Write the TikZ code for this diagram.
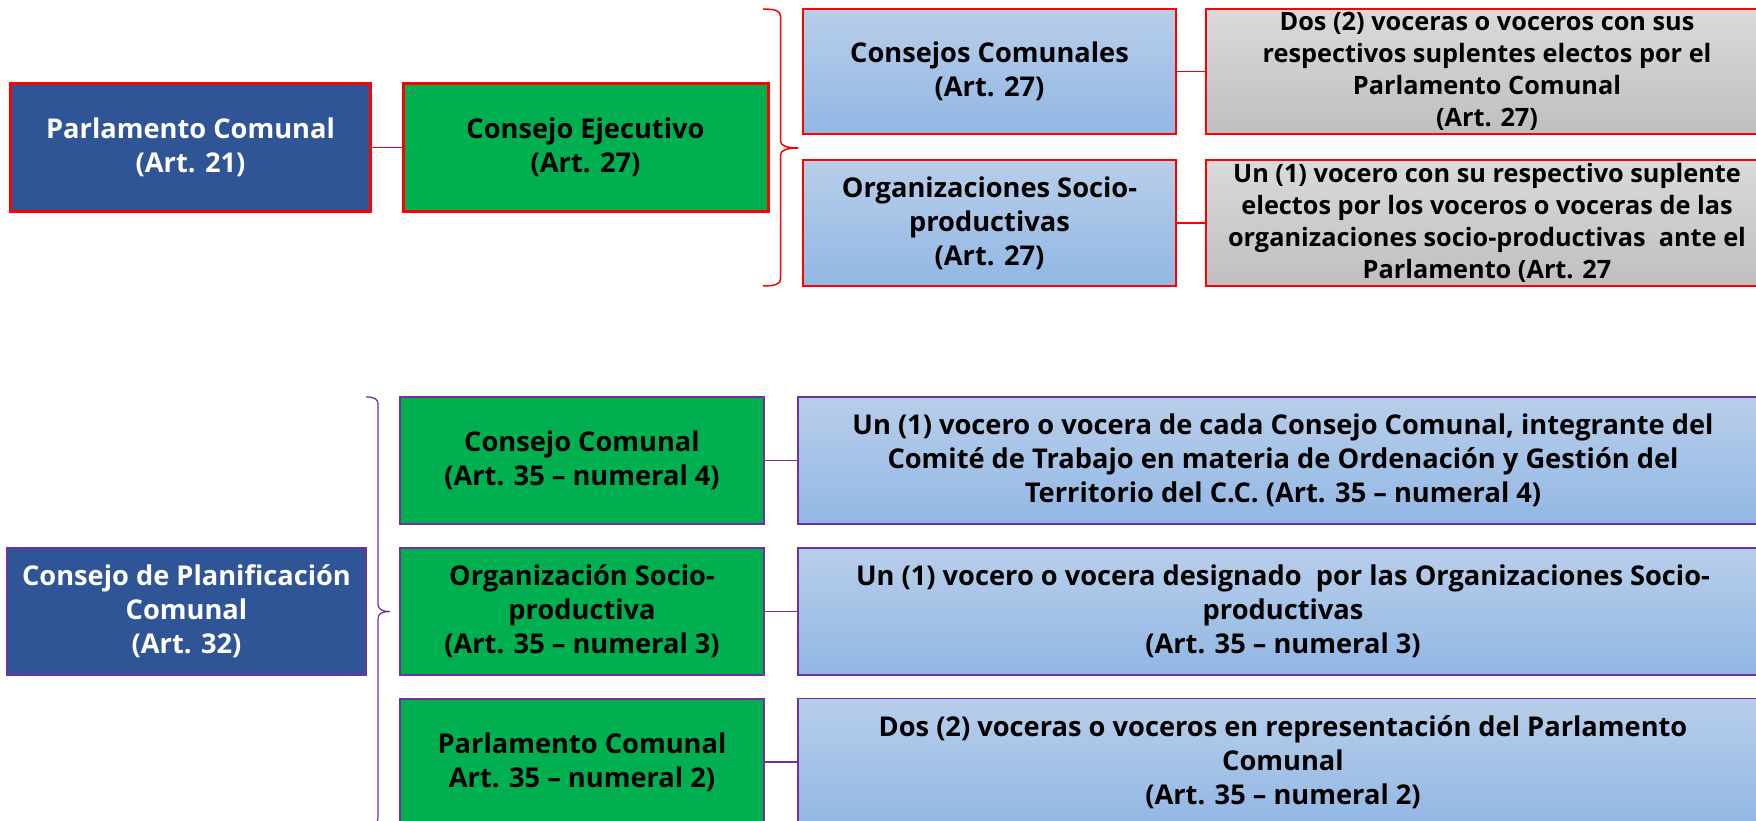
\documentclass[tikz,border=0pt]{standalone}
\usepackage{fontspec}
\setmainfont{Open Sans}

\definecolor{jefe}{RGB}{47,85,151}
\definecolor{verde}{RGB}{0,176,80}
\definecolor{celesteA}{RGB}{184,206,234}
\definecolor{celesteB}{RGB}{146,183,228}
\definecolor{grisA}{RGB}{218,218,218}
\definecolor{grisB}{RGB}{191,191,191}
\definecolor{morado}{RGB}{112,48,160}

\newcommand{\txtgrande}{\fontsize{15.5}{19.4}\selectfont\bfseries}
\newcommand{\txtchico}{\fontsize{14.4}{18.2}\selectfont\bfseries}

\newcommand{\llave}[6]{
  \draw[#1] (#2, #3) .. controls ({#2+0.7*#6}, #3) and ({#2+#6}, {#3+2}) .. ({#2+#6}, {#3+7})
    -- ({#2+#6}, {#4-7}) .. controls ({#2+#6}, {#4-2}) and ({#2+1.4*#6}, #4) .. ({#2+2*#6}, #4)
    .. controls ({#2+1.4*#6}, #4) and ({#2+#6}, {#4+2}) .. ({#2+#6}, {#4+7})
    -- ({#2+#6}, {#5-7}) .. controls ({#2+#6}, {#5-2}) and ({#2+0.7*#6}, #5) .. (#2, #5);
}

\tikzset{
  caja/.style = {align = center, inner sep = 0pt, font = \txtgrande},
  jefe/.style = {caja, fill = jefe, text = white, minimum width = 71.8mm, minimum height = 25.4mm},
  mando/.style = {caja, fill = verde, minimum height = 25.4mm},
  celeste/.style = {caja, top color = celesteA, bottom color = celesteB},
  gris/.style = {caja, top color = grisA, bottom color = grisB, font = \txtchico,
    minimum width = 112.4mm, minimum height = 25mm}
}

\begin{document}
\begin{tikzpicture}[x = 0.2mm, y = -0.2mm]
  \useasboundingbox (0, 0) rectangle (1756, 821);
  \clip (0, 0) rectangle (1756, 821);

  % consejo ejecutivo
  \node[jefe, draw = red, line width = 0.6mm] (parl) at (190.5, 147.5)
    {Parlamento Comunal\\(Art. 21)};
  \node[mando, draw = red, line width = 0.6mm, minimum width = 73mm] (ejec) at (585.5, 147.5)
    {Consejo Ejecutivo\\(Art. 27)};
  \node[celeste, draw = red, line width = 0.3mm, minimum width = 74.6mm, minimum height = 25mm]
    (comunales) at (989.5, 71.5) {Consejos Comunales\\(Art. 27)};
  \node[celeste, draw = red, line width = 0.3mm, minimum width = 74.6mm, minimum height = 25.2mm]
    (orgsp) at (989.5, 223) {Organizaciones Socio-\\productivas\\(Art. 27)};
  \node[gris, draw = red, line width = 0.3mm] (voceros) at (1487, 71.5)
    {Dos (2) voceras o voceros con sus\\respectivos suplentes electos por el\\Parlamento Comunal\\(Art. 27)};
  \node[gris, draw = red, line width = 0.3mm, minimum height = 25.2mm] (vocero) at (1487, 223)
    {Un (1) vocero con su respectivo suplente\\electos por los voceros o voceras de las\\organizaciones socio-productivas \ ante el\\Parlamento (Art. 27};

  \draw[red, line width = 0.25mm] (parl) -- (ejec);
  \draw[red, line width = 0.3mm] (comunales) -- (voceros);
  \draw[red, line width = 0.3mm] (orgsp) -- (vocero);
  \llave{red, line width = 0.3mm}{763}{9}{148}{286}{17.5}

  % consejo de planificacion
  \node[jefe, draw = morado, line width = 0.4mm] (plan) at (186.5, 611.5)
    {Consejo de Planificación\\Comunal\\(Art. 32)};
  \node[mando, draw = morado, line width = 0.4mm, minimum width = 72.8mm] (cc) at (582, 460.5)
    {Consejo Comunal\\(Art. 35 -- numeral 4)};
  \node[mando, draw = morado, line width = 0.4mm, minimum width = 72.8mm] (osp) at (582, 611.5)
    {Organización Socio-\\productiva\\(Art. 35 -- numeral 3)};
  \node[mando, draw = morado, line width = 0.4mm, minimum width = 72.8mm] (pc) at (582, 762)
    {Parlamento Comunal\\Art. 35 -- numeral 2)};
  \node[celeste, draw = morado, line width = 0.25mm, minimum width = 194mm, minimum height = 25.4mm]
    (cctxt) at (1283, 460.5)
    {Un (1) vocero o vocera de cada Consejo Comunal, integrante del\\Comité de Trabajo en materia de Ordenación y Gestión del\\Territorio del C.C. (Art. 35 -- numeral 4)};
  \node[celeste, draw = morado, line width = 0.25mm, minimum width = 194mm, minimum height = 25.4mm]
    (osptxt) at (1283, 611.5)
    {Un (1) vocero o vocera designado \ por las Organizaciones Socio-\\productivas\\(Art. 35 -- numeral 3)};
  \node[celeste, draw = morado, line width = 0.25mm, minimum width = 194mm, minimum height = 25.4mm]
    (pctxt) at (1283, 762)
    {Dos (2) voceras o voceros en representación del Parlamento\\Comunal\\(Art. 35 -- numeral 2)};

  \draw[morado, line width = 0.25mm] (cc) -- (cctxt);
  \draw[morado, line width = 0.25mm] (osp) -- (osptxt);
  \draw[morado, line width = 0.25mm] (pc) -- (pctxt);
  \llave{morado, line width = 0.25mm}{366}{397}{611.5}{825}{12}
\end{tikzpicture}
\end{document}
